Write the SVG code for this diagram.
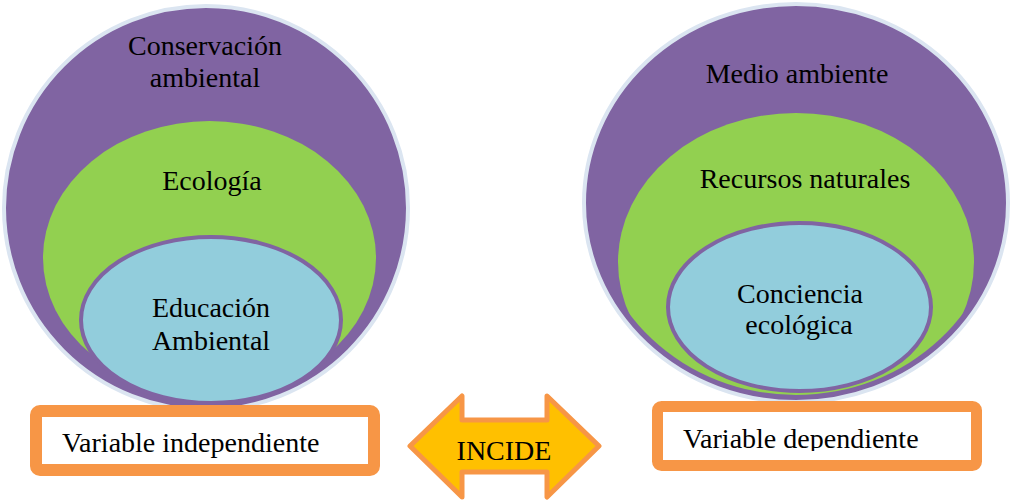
<svg xmlns="http://www.w3.org/2000/svg" width="1011" height="500" viewBox="0 0 1011 500">
  <style>
    .outer { fill: #8064a2; stroke: #dbe5f1; stroke-width: 4; }
    .mid { fill: #92d050; }
    .inner { fill: #92cddc; stroke: #8064a2; stroke-width: 4; }
    .box { fill: #ffffff; stroke: #f79646; }
    text { font-family: 'Liberation Serif', 'Times New Roman', Times, 'Noto Serif', 'DejaVu Serif', serif; font-size: 28px; fill: #000000; }
    .t { text-anchor: middle; }
  </style>
  <defs>
    <clipPath id="clipL"><circle cx="206" cy="208" r="193"/></clipPath>
    <clipPath id="clipR"><ellipse cx="796" cy="203" rx="204" ry="192"/></clipPath>
    <clipPath id="clipTxtR"><rect x="663" y="412" width="308" height="39"/></clipPath>
  </defs>
  <rect width="1011" height="500" fill="#ffffff"/>

  <g id="left-outer">
    <circle class="outer" cx="206" cy="208" r="202"/>
    <text class="t" x="205" y="55">Conservación</text>
    <text class="t" x="205" y="87">ambiental</text>
  </g>
  <g id="left-mid">
    <ellipse class="mid" cx="209.5" cy="258" rx="166.5" ry="137" clip-path="url(#clipL)"/>
    <text class="t" x="212" y="190">Ecología</text>
  </g>
  <g id="left-inner">
    <ellipse class="inner" cx="211" cy="320" rx="130" ry="83"/>
    <text class="t" x="211" y="317">Educación</text>
    <text class="t" x="211" y="350">Ambiental</text>
  </g>

  <g id="right-outer">
    <ellipse class="outer" cx="796" cy="203" rx="212" ry="199"/>
    <text class="t" x="797" y="83">Medio ambiente</text>
  </g>
  <g id="right-mid">
    <ellipse class="mid" cx="796" cy="262" rx="178" ry="149" clip-path="url(#clipR)"/>
    <text class="t" x="805" y="188">Recursos naturales</text>
  </g>
  <g id="right-inner">
    <ellipse class="inner" cx="799.5" cy="307" rx="131.5" ry="84"/>
    <text class="t" x="800" y="303">Conciencia</text>
    <text class="t" x="799" y="334">ecológica</text>
  </g>

  <g id="var-independiente">
    <rect class="box" x="36" y="411" width="338" height="59" rx="4" stroke-width="12"/>
    <text x="62" y="452">Variable independiente</text>
  </g>
  <g id="var-dependiente">
    <rect class="box" x="657.5" y="406.5" width="319" height="59" rx="4" stroke-width="11"/>
    <text x="683" y="448" clip-path="url(#clipTxtR)">Variable dependiente</text>
  </g>

  <g id="connectors">
    <g id="incide">
      <path d="M410,446 L462,396 L462,420 L547,420 L547,396 L599,446 L547,497 L547,472 L462,472 L462,497 Z" fill="#ffc000" stroke="#f79646" stroke-width="5" stroke-linejoin="round"/>
      <text class="t" x="504" y="460">INCIDE</text>
    </g>
  </g>
</svg>
